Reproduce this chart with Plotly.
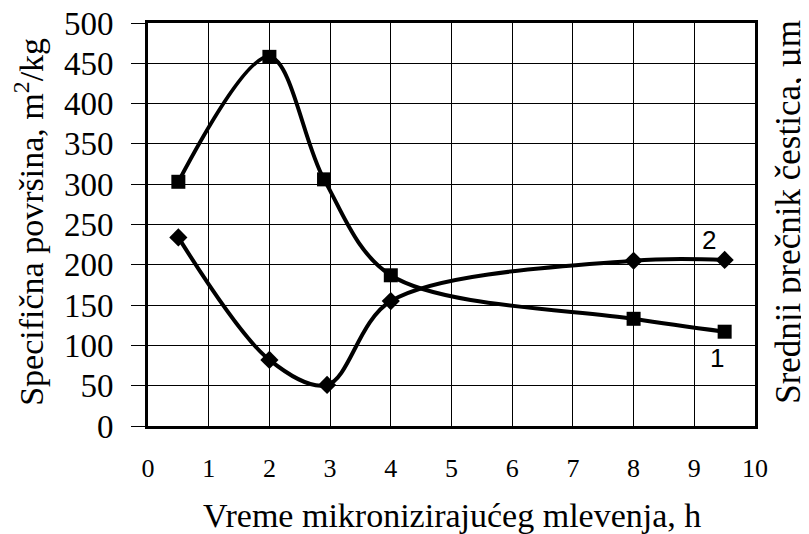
import plotly.graph_objects as go

# Data
time_1 = [0.5, 2.0, 2.9, 4.0, 8.0, 9.5]
surface_1 = [303, 458, 306, 187, 133, 117]

time_2 = [0.5, 2.0, 2.95, 4.0, 8.0, 9.5]
diameter_2 = [234, 82, 51, 155, 205, 206]

x_ticks = list(range(0, 11))
y_ticks = list(range(0, 501, 50))

serif = "Liberation Serif"
sans = "Liberation Sans"

fig = go.Figure()
fig.add_trace(go.Scatter(
    x=time_1, y=surface_1, mode="lines+markers",
    line=dict(color="black", width=4, shape="spline", smoothing=0.95),
    marker=dict(symbol="square", size=14, color="black"),
    showlegend=False,
))
fig.add_trace(go.Scatter(
    x=time_2, y=diameter_2, mode="lines+markers",
    line=dict(color="black", width=4, shape="spline", smoothing=0.95),
    marker=dict(symbol="diamond", size=14, color="black"),
    showlegend=False,
))

fig.update_layout(
    width=801, height=526,
    margin=dict(l=140, r=54, t=15, b=108, autoexpand=False),
    paper_bgcolor="white", plot_bgcolor="white",
    font=dict(family=serif, color="black"),
    xaxis=dict(
        range=[0, 10], tickvals=x_ticks, ticktext=[str(v) for v in x_ticks],
        showgrid=True, gridcolor="black", gridwidth=1.3,
        showline=True, linecolor="black", linewidth=2.8, mirror=True,
        ticks="", tickfont=dict(family=serif, size=26),
        ticklabelstandoff=17, zeroline=False, automargin=False,
        ticklabeloverflow="allow",
    ),
    yaxis=dict(
        range=[0, 500], tickvals=y_ticks,
        showgrid=True, gridcolor="black", gridwidth=1.3,
        showline=True, linecolor="black", linewidth=2.8, mirror=True,
        ticks="outside", ticklen=14, tickwidth=1.3, tickcolor="black",
        tickfont=dict(family=serif, size=33),
        ticklabelstandoff=11, zeroline=False, automargin=False,
        ticklabeloverflow="allow",
    ),
    annotations=[
        dict(text="Vreme mikronizirajućeg mlevenja, h", xref="paper", yref="paper",
             x=0.5, y=-0.222, showarrow=False, font=dict(family=serif, size=34),
             xanchor="center", yanchor="middle"),
        dict(text="Specifična površina, m<sup>2</sup>/kg", xref="paper", yref="paper",
             x=-0.1965, y=0.506, showarrow=False, textangle=-90,
             font=dict(family=serif, size=34), xanchor="center", yanchor="middle"),
        dict(text="Srednji prečnik čestica, µm", xref="paper", yref="paper",
             x=1.054, y=0.531, showarrow=False, textangle=-90,
             font=dict(family=serif, size=35), xanchor="center", yanchor="middle"),
        dict(text="2", x=9.24, y=231, showarrow=False,
             font=dict(family=sans, size=26)),
        dict(text="1", x=9.37, y=84, showarrow=False,
             font=dict(family=sans, size=26)),
    ],
)

fig.write_html("out.html")
